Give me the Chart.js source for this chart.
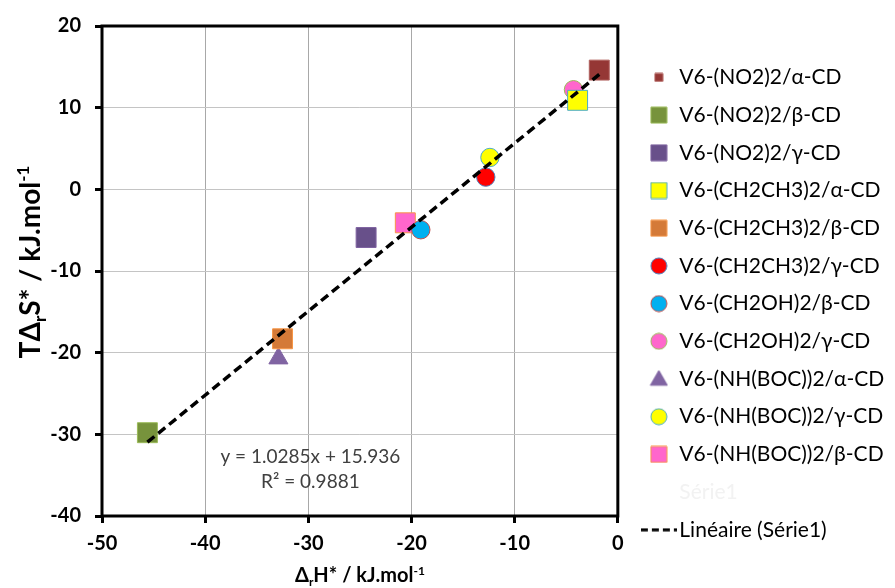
<!DOCTYPE html>
<html>
<head>
<meta charset="utf-8">
<title>TΔrS* vs ΔrH*</title>
<script src="https://cdn.jsdelivr.net/npm/chart.js@4.4.0/dist/chart.umd.min.js"></script>
<style>
  html, body { margin: 0; padding: 0; background: #fff; }
  #wrap { width: 895px; height: 588px; position: relative; }
</style>
</head>
<body>
<div id="wrap"><canvas id="chart"></canvas></div>
<script>
// Series
const seriesNames = [
  'V6-(NO2)2/α-CD',
  'V6-(NO2)2/β-CD',
  'V6-(NO2)2/γ-CD',
  'V6-(CH2CH3)2/α-CD',
  'V6-(CH2CH3)2/β-CD',
  'V6-(CH2CH3)2/γ-CD',
  'V6-(CH2OH)2/β-CD',
  'V6-(CH2OH)2/γ-CD',
  'V6-(NH(BOC))2/α-CD',
  'V6-(NH(BOC))2/γ-CD',
  'V6-(NH(BOC))2/β-CD'
];
const deltaH = [-1.8, -45.6, -24.4, -3.9, -32.5, -12.8, -19.1, -4.3, -32.9, -12.4, -20.6];
const tDeltaS = [14.6, -29.8, -5.9, 10.9, -18.3, 1.5, -4.95, 12.2, -20.7, 3.9, -4.1];

// Trend line (Excel "Linéaire (Série1)") end points
const trendX = [-45.6, -1.8];
const trendY = [-30.96, 14.08];
const trendText = ['y = 1.0285x + 15.936', 'R² = 0.9881'];

const xTicks = [-50, -40, -30, -20, -10, 0];
const yTicks = [-40, -30, -20, -10, 0, 10, 20];

// Marker styles
const markerShapes = ['rect', 'rect', 'rect', 'rect', 'rect', 'circle', 'circle', 'circle', 'triangle', 'circle', 'rect'];
const markerFills = ['#953735', '#77933c', '#68508a', '#ffff00', '#d47a38', '#ff0000', '#00b0f0', '#ff66cc', '#8064a2', '#ffff00', '#ff66cc'];
const markerBorders = ['#b0605d', '#9bbb59', '#8064a2', '#4bacc6', '#f79646', '#4f81bd', '#c0504d', '#9bbb59', '#8064a2', '#4bacc6', '#f79646'];
const legendSizes = [8, 16, 16, 16, 16, 16, 16, 16, 17, 16, 16];

const FONT = 'Lato';
Chart.defaults.font.family = FONT;
Chart.defaults.color = '#000';

// Small canvases used as legend markers
const makeMarker = (shape, size, fill, stroke) => {
  const c = document.createElement('canvas');
  c.width = size + 2;
  c.height = size + 2;
  const g = c.getContext('2d');
  const m = (size + 2) / 2;
  g.fillStyle = fill;
  g.strokeStyle = stroke;
  g.lineWidth = 1;
  g.beginPath();
  if (shape === 'circle') {
    g.arc(m, m, size / 2, 0, Math.PI * 2);
  } else if (shape === 'triangle') {
    g.moveTo(m, 1);
    g.lineTo(size + 1, size * 0.87 + 1);
    g.lineTo(1, size * 0.87 + 1);
    g.closePath();
  } else {
    g.rect(1, 1, size, size);
  }
  g.fill();
  g.stroke();
  return c;
};

const makeDash = () => {
  const c = document.createElement('canvas');
  c.width = 36;
  c.height = 4;
  const g = c.getContext('2d');
  g.strokeStyle = '#000';
  g.lineWidth = 3;
  g.setLineDash([7, 4]);
  g.beginPath();
  g.moveTo(0, 2);
  g.lineTo(36, 2);
  g.stroke();
  return c;
};

const blank = document.createElement('canvas');
blank.width = 1;
blank.height = 1;

const legendMarkers = markerShapes.map((s, i) => makeMarker(s, legendSizes[i], markerFills[i], markerBorders[i]));

// Build datasets
const pointRadius = { rect: 14.1, circle: 9.2, triangle: 11 };
const datasets = seriesNames.map((name, i) => ({
  label: name,
  data: [{ x: deltaH[i], y: tDeltaS[i] }],
  pointStyle: markerShapes[i],
  pointRadius: pointRadius[markerShapes[i]],
  pointHoverRadius: pointRadius[markerShapes[i]],
  backgroundColor: markerFills[i],
  borderColor: markerBorders[i],
  pointBorderWidth: 1,
  showLine: false,
  order: 1
}));
datasets.push({
  label: 'Linéaire (Série1)',
  data: trendX.map((x, i) => ({ x: x, y: trendY[i] })),
  showLine: true,
  borderColor: '#000',
  borderWidth: 3.5,
  borderDash: [9, 5],
  pointRadius: 0,
  pointHoverRadius: 0,
  fill: false,
  order: 0
});

// Draw text with sub/superscripts
const drawRich = (ctx, parts, cx, cy, size, angle) => {
  const small = Math.round(size * 0.62);
  const fontFor = (k) => `bold ${k ? small : size}px ${FONT}`;
  let total = 0;
  parts.forEach(([t, k]) => { ctx.font = fontFor(k); total += ctx.measureText(t).width; });
  ctx.save();
  ctx.translate(cx, cy);
  ctx.rotate(angle);
  ctx.fillStyle = '#000';
  ctx.textBaseline = 'alphabetic';
  let x = -total / 2;
  const base = size * 0.36;
  parts.forEach(([t, k]) => {
    ctx.font = fontFor(k);
    const dy = k === 'sub' ? size * 0.2 : k === 'sup' ? -size * 0.38 : 0;
    ctx.fillText(t, x, base + dy);
    x += ctx.measureText(t).width;
  });
  ctx.restore();
};

const framePlugin = {
  id: 'frameAndTitles',
  beforeDatasetsDraw(chart) {
    const { ctx, chartArea: a } = chart;
    ctx.save();
    ctx.strokeStyle = '#000';
    ctx.lineWidth = 3;
    ctx.strokeRect(a.left, a.top, a.right - a.left, a.bottom - a.top);
    ctx.restore();
  },
  afterDraw(chart) {
    const { ctx, chartArea: a, scales } = chart;
    // axis titles
    drawRich(ctx, [['Δ', ''], ['r', 'sub'], ['H* / kJ.mol', ''], ['-1', 'sup']],
      (a.left + a.right) / 2, 575, 20, 0);
    drawRich(ctx, [['TΔ', ''], ['r', 'sub'], ['S* / kJ.mol', ''], ['-1', 'sup']],
      30, 262, 28, -Math.PI / 2);
    // regression label
    ctx.save();
    ctx.font = `19px ${FONT}`;
    ctx.fillStyle = '#404040';
    ctx.textAlign = 'center';
    ctx.textBaseline = 'middle';
    const px = scales.x.getPixelForValue(-29.8);
    const py = scales.y.getPixelForValue(-32.8);
    trendText.forEach((t, i) => ctx.fillText(t, px, py + i * 25));
    ctx.restore();
  }
};

const ctx = document.getElementById('chart').getContext('2d');
const chart = new Chart(ctx, {
  type: 'scatter',
  data: { datasets: datasets },
  options: {
    responsive: true,
    maintainAspectRatio: false,
    animation: false,
    layout: { padding: { left: 42, top: 25, right: 0.8, bottom: 0 } },
    plugins: {
      tooltip: { enabled: false },
      legend: {
        position: 'right',
        align: 'start',
        maxWidth: 264,
        title: { display: true, text: '', font: { size: 1 }, padding: { top: 12, bottom: 12 } },
        labels: {
          usePointStyle: true,
          pointStyleWidth: 20,
          padding: 16.7,
          font: { size: 21, family: FONT },
          color: '#000',
          generateLabels: () => {
            const items = seriesNames.map((name, i) => ({
              text: name,
              pointStyle: legendMarkers[i],
              fillStyle: markerFills[i],
              strokeStyle: markerBorders[i],
              lineWidth: 0,
              hidden: false,
              datasetIndex: i,
              fontColor: '#000'
            }));
            items.push({ text: 'Série1', pointStyle: blank, lineWidth: 0, hidden: false, fontColor: '#f2f2f2' });
            items.push({ text: 'Linéaire (Série1)', pointStyle: makeDash(), lineWidth: 0, hidden: false, datasetIndex: 11, fontColor: '#000' });
            return items;
          }
        }
      }
    },
    scales: {
      x: {
        type: 'linear',
        min: xTicks[0],
        max: xTicks[xTicks.length - 1],
        afterBuildTicks: (s) => { s.ticks = xTicks.map(v => ({ value: v })); },
        afterFit: (s) => { s.height = 72; },
        border: { display: false },
        grid: { color: '#a8a8a8', lineWidth: 1, tickLength: 7, tickColor: '#000', tickWidth: 3 },
        ticks: { padding: 9, font: { size: 20, weight: 'bold', family: FONT }, color: '#000' }
      },
      y: {
        type: 'linear',
        min: yTicks[0],
        max: yTicks[yTicks.length - 1],
        afterBuildTicks: (s) => { s.ticks = yTicks.map(v => ({ value: v })); },
        afterFit: (s) => { s.width = 60; },
        border: { display: false },
        grid: { color: '#c4c4c4', lineWidth: 1, tickLength: 7, tickColor: '#000', tickWidth: 3 },
        ticks: { padding: 14, font: { size: 20, weight: 'bold', family: FONT }, color: '#000' }
      },
      spacer: {
        type: 'linear',
        position: 'right',
        display: true,
        grid: { display: false, drawTicks: false },
        ticks: { display: false },
        border: { display: false },
        afterFit: (s) => { s.width = 14.3; }
      }
    }
  },
  plugins: [framePlugin]
});
</script>
</body>
</html>
